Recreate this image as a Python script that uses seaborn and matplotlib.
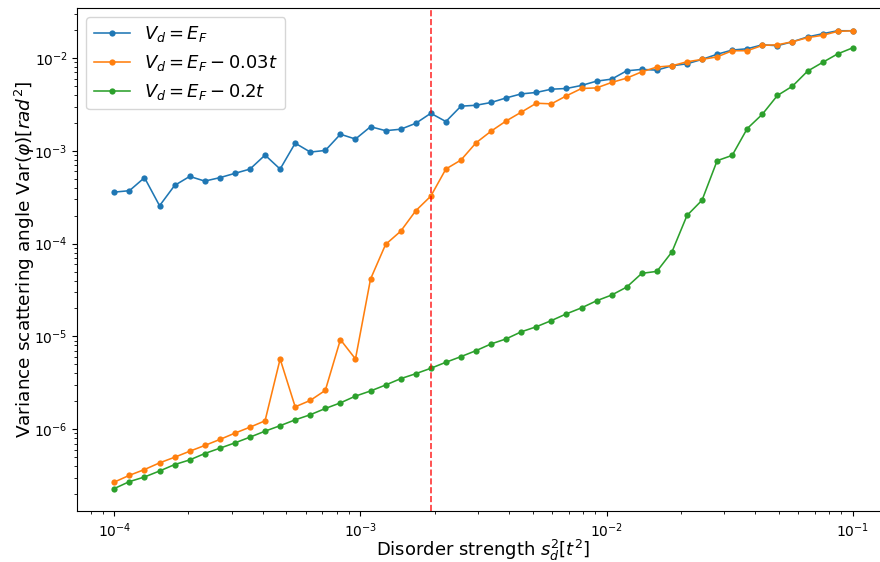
import numpy as np
import pandas as pd
import matplotlib
matplotlib.use("Agg")
import matplotlib.pyplot as plt
import seaborn as sns

# disorder strength grid (50 log-spaced points from 1e-4 to 1e-1)
disorder = np.logspace(-4, -1, 50)

var_ef = [3.59e-4, 3.72e-4, 5.14e-4, 2.56e-4, 4.24e-4, 5.30e-4, 4.72e-4, 5.14e-4, 5.72e-4, 6.36e-4,
          9.0e-4, 6.36e-4, 1.21e-3, 9.7e-4, 1.01e-3, 1.51e-3, 1.34e-3, 1.82e-3, 1.65e-3, 1.71e-3,
          1.98e-3, 2.54e-3, 2.07e-3, 3.03e-3, 3.10e-3, 3.32e-3, 3.72e-3, 4.11e-3, 4.26e-3, 4.62e-3,
          4.70e-3, 5.07e-3, 5.64e-3, 5.93e-3, 7.29e-3, 7.55e-3, 7.41e-3, 8.26e-3, 8.68e-3, 9.68e-3,
          1.10e-2, 1.22e-2, 1.26e-2, 1.39e-2, 1.36e-2, 1.50e-2, 1.69e-2, 1.83e-2, 1.97e-2, 1.97e-2]

var_003 = [2.69e-7, 3.18e-7, 3.67e-7, 4.33e-7, 4.98e-7, 5.78e-7, 6.67e-7, 7.74e-7, 9.06e-7, 1.05e-6,
           1.23e-6, 5.71e-6, 1.74e-6, 2.04e-6, 2.62e-6, 9.23e-6, 5.71e-6, 4.15e-5, 9.8e-5, 1.36e-4,
           2.26e-4, 3.25e-4, 6.37e-4, 7.96e-4, 1.22e-3, 1.63e-3, 2.10e-3, 2.61e-3, 3.26e-3, 3.21e-3,
           3.92e-3, 4.70e-3, 4.77e-3, 5.46e-3, 6.08e-3, 7.11e-3, 8.0e-3, 8.26e-3, 9.12e-3, 9.68e-3,
           1.03e-2, 1.20e-2, 1.20e-2, 1.37e-2, 1.39e-2, 1.50e-2, 1.66e-2, 1.76e-2, 1.94e-2, 1.97e-2]

var_02 = [2.29e-7, 2.72e-7, 3.05e-7, 3.54e-7, 4.15e-7, 4.66e-7, 5.46e-7, 6.23e-7, 7.11e-7, 8.20e-7,
          9.51e-7, 1.09e-6, 1.26e-6, 1.43e-6, 1.67e-6, 1.92e-6, 2.27e-6, 2.58e-6, 2.99e-6, 3.50e-6,
          3.96e-6, 4.53e-6, 5.26e-6, 6.05e-6, 7.02e-6, 8.29e-6, 9.40e-6, 1.12e-5, 1.27e-5, 1.48e-5,
          1.75e-5, 2.03e-5, 2.42e-5, 2.79e-5, 3.40e-5, 4.78e-5, 5.02e-5, 8.13e-5, 2.01e-4, 2.94e-4,
          7.83e-4, 8.94e-4, 1.74e-3, 2.48e-3, 3.95e-3, 4.98e-3, 7.23e-3, 8.98e-3, 1.11e-2, 1.29e-2]

labels = [r'$V_d = E_F$', r'$V_d = E_F - 0.03t$', r'$V_d = E_F - 0.2t$']
critical = 1.93e-3

series = [var_ef, var_003, var_02]
colors = ['#1f77b4', '#ff7f0e', '#2ca02c']

fig = plt.figure(figsize=(8.8, 5.62), dpi=100)
ax = fig.add_axes([0.088, 0.09, 0.923, 0.896])

for vals, lab, col in zip(series, labels, colors):
    df = pd.DataFrame({'x': disorder, 'y': vals})
    sns.lineplot(data=df, x='x', y='y', ax=ax, color=col, label=lab,
                 marker='o', markersize=4.5, markeredgewidth=0, linewidth=1.15)

ax.set_xscale('log')
ax.set_yscale('log')
ax.axvline(critical, color='red', linestyle='--', alpha=0.8, linewidth=1.2)

ax.set_xlabel(r'Disorder strength $s_d^2[t^2]$', fontsize=13, labelpad=-1.5)
ax.set_ylabel(r'Variance scattering angle Var($\varphi$)[$rad^2$]', fontsize=13.3, labelpad=-2)
ax.tick_params(labelsize=10)
ax.legend(loc='upper left', fontsize=13)

fig.savefig('out.png', dpi=100)
